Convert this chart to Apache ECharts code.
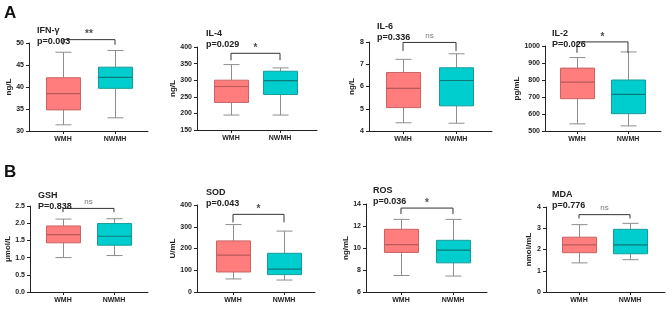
<!DOCTYPE html>
<html>
<head>
<meta charset="utf-8">
<script src="https://cdn.jsdelivr.net/npm/echarts@6/dist/echarts.min.js"></script>
<style>
  html, body { margin: 0; padding: 0; background: #fff; }
  #chart { width: 669px; height: 309px; }
</style>
</head>
<body>
<div id="chart"></div>
<script>
var titles = ['IFN-γ', 'IL-4', 'IL-6', 'IL-2', 'GSH', 'SOD', 'ROS', 'MDA'];
var pLabels = ['p=0.003', 'p=0.029', 'p=0.336', 'P=0.026', 'P=0.838', 'p=0.043', 'p=0.036', 'p=0.776'];
var units = ['ng/L', 'ng/L', 'ng/L', 'pg/mL', 'μmol/L', 'U/mL', 'ng/mL', 'nmol/mL'];
var sigMarks = ['**', '*', 'ns', '*', 'ns', '*', '*', 'ns'];
var groups = ['WMH', 'NWMH'];

// [min, Q1, median, Q3, max]
var wmhStats = [
  [31.4, 34.8, 38.5, 42.1, 47.9],
  [195, 233, 281, 300, 347],
  [4.37, 5.05, 5.92, 6.63, 7.22],
  [542, 690, 787, 870, 932],
  [1.0, 1.43, 1.67, 1.92, 2.12],
  [60, 92, 170, 235, 310],
  [7.5, 9.6, 10.3, 11.7, 12.6],
  [1.37, 1.85, 2.22, 2.58, 3.17]
];
var nwmhStats = [
  [33.0, 39.7, 42.2, 44.5, 48.3],
  [195, 257, 299, 327, 337],
  [4.35, 5.13, 6.27, 6.84, 7.47],
  [530, 602, 715, 800, 965],
  [1.06, 1.36, 1.62, 1.99, 2.13],
  [55, 80, 105, 178, 280],
  [7.45, 8.65, 9.8, 10.7, 12.6],
  [1.52, 1.8, 2.22, 2.95, 3.23]
];

var yMin = [30, 150, 4, 500, 0, 0, 6, 0];
var yMax = [50, 400, 8, 1000, 2.5, 400, 14, 4];
var yStep = [5, 50, 1, 100, 0.5, 100, 2, 1];
var yDecimals = [0, 0, 0, 0, 1, 0, 0, 0];

// significance bracket levels
var bracketTop = [50.76, 381, 7.98, 1024, 2.43, 357, 13.63, 3.64];
var bracketFoot = [49.6, 360, 7.6, 960, 2.32, 320, 13.08, 3.46];

// panel layout: left, top, width, height, x min, x max, y name gap, title left, title top
var frames = [
  [29, 43, 119, 88, -0.654, 1.635, 11, 32, 20],
  [197, 47, 120, 83, -0.694, 1.755, 13, 201, 23],
  [369, 42, 123, 89, -0.642, 1.679, 8, 372, 16],
  [545, 46, 116, 85, -0.627, 1.647, 18, 547, 23],
  [30, 206, 118, 86, -0.647, 1.667, 12, 33, 185],
  [197, 205, 118, 87, -0.706, 1.608, 12, 201, 182],
  [366, 204, 121, 88, -0.673, 1.654, 10, 368, 180],
  [546, 207, 119, 85, -0.647, 1.686, 7, 547, 184]
];

var fills = ['#ff7d7d', '#00cdcd'];
var borders = ['#c86464', '#169c9c'];
var medians = ['#b85858', '#0a7a7a'];
var txtFont = 'Liberation Sans';

function renderBox(params, api) {
  var x = api.value(0);
  var gi = Math.round(x);
  var lo = api.coord([x, api.value(1)]);
  var q1 = api.coord([x, api.value(2)]);
  var md = api.coord([x, api.value(3)]);
  var q3 = api.coord([x, api.value(4)]);
  var hi = api.coord([x, api.value(5)]);
  var cx = Math.round(lo[0]) + 0.5;
  var half = 17, cap = 8;
  var wStyle = { stroke: '#8e8e8e', lineWidth: 1 };
  return {
    type: 'group',
    children: [
      { type: 'line', shape: { x1: cx, y1: lo[1], x2: cx, y2: q1[1] }, style: wStyle },
      { type: 'line', shape: { x1: cx, y1: q3[1], x2: cx, y2: hi[1] }, style: wStyle },
      { type: 'line', shape: { x1: cx - cap, y1: lo[1], x2: cx + cap, y2: lo[1] }, style: wStyle },
      { type: 'line', shape: { x1: cx - cap, y1: hi[1], x2: cx + cap, y2: hi[1] }, style: wStyle },
      { type: 'rect', shape: { x: cx - half, y: q3[1], width: half * 2, height: q1[1] - q3[1] },
        style: { fill: fills[gi], stroke: borders[gi], lineWidth: 1 } },
      { type: 'line', shape: { x1: cx - half, y1: md[1], x2: cx + half, y2: md[1] },
        style: { stroke: medians[gi], lineWidth: 1.2 } }
    ]
  };
}

var grid = [], xAxis = [], yAxis = [], series = [], title = [];

for (let i = 0; i < titles.length; i++) {
  const f = frames[i];
  grid.push({ left: f[0], top: f[1], width: f[2], height: f[3] });

  xAxis.push({
    type: 'value', gridIndex: i, min: f[4], max: f[5],
    splitLine: { show: false },
    axisLine: { onZero: false, lineStyle: { color: '#222', width: 1 } },
    axisTick: { customValues: [0, 1], length: 3, lineStyle: { color: '#222' } },
    axisLabel: {
      customValues: [0, 1], margin: 5,
      formatter: function (v) { return groups[Math.round(v)]; },
      fontSize: 7, fontWeight: 'bold', color: '#222', fontFamily: txtFont
    }
  });

  yAxis.push({
    type: 'value', gridIndex: i, min: yMin[i], max: yMax[i], interval: yStep[i],
    splitLine: { show: false },
    axisLine: { show: true, onZero: false, lineStyle: { color: '#222', width: 1 } },
    axisTick: { show: true, length: 3, lineStyle: { color: '#222' } },
    axisLabel: {
      margin: 5, fontSize: 7, fontWeight: 'bold', color: '#222', fontFamily: txtFont,
      formatter: (function (d) { return function (v) { return v.toFixed(d); }; })(yDecimals[i])
    },
    name: units[i], nameLocation: 'middle', nameGap: f[6],
    nameTextStyle: { fontSize: 8, fontWeight: 'bold', color: '#222', fontFamily: txtFont }
  });

  title.push({
    text: titles[i] + '\n' + pLabels[i], left: f[7], top: f[8],
    textStyle: { fontSize: 9, fontWeight: 'bold', color: '#222', lineHeight: 11, fontFamily: txtFont }
  });

  series.push({
    type: 'custom', xAxisIndex: i, yAxisIndex: i,
    renderItem: renderBox,
    encode: { x: 0, y: [1, 2, 3, 4, 5] },
    data: [[0].concat(wmhStats[i]), [1].concat(nwmhStats[i])],
    silent: true
  });

  series.push({
    type: 'line', xAxisIndex: i, yAxisIndex: i, clip: false,
    showSymbol: false, silent: true,
    lineStyle: { color: '#333', width: 1 },
    data: [[0, bracketFoot[i]], [0, bracketTop[i]], [1, bracketTop[i]], [1, bracketFoot[i]]]
  });

  series.push({
    type: 'scatter', xAxisIndex: i, yAxisIndex: i, clip: false,
    symbolSize: 0, silent: true,
    data: [[0.5, bracketTop[i]]],
    label: {
      show: true, position: 'top', distance: sigMarks[i] === 'ns' ? 3 : 0,
      formatter: sigMarks[i],
      fontSize: sigMarks[i] === 'ns' ? 8 : 10,
      fontWeight: sigMarks[i] === 'ns' ? 'normal' : 'bold',
      color: sigMarks[i] === 'ns' ? '#555' : '#222', fontFamily: txtFont
    }
  });
}

var chart = echarts.init(document.getElementById('chart'));
chart.setOption({
  animation: false,
  backgroundColor: '#fff',
  title: title,
  grid: grid,
  xAxis: xAxis,
  yAxis: yAxis,
  series: series,
  graphic: [
    { type: 'text', left: 4, top: 5, style: { text: 'A', fontSize: 17, fontWeight: 'bold', fill: '#111', fontFamily: txtFont } },
    { type: 'text', left: 4, top: 164, style: { text: 'B', fontSize: 17, fontWeight: 'bold', fill: '#111', fontFamily: txtFont } }
  ]
});
</script>
</body>
</html>
